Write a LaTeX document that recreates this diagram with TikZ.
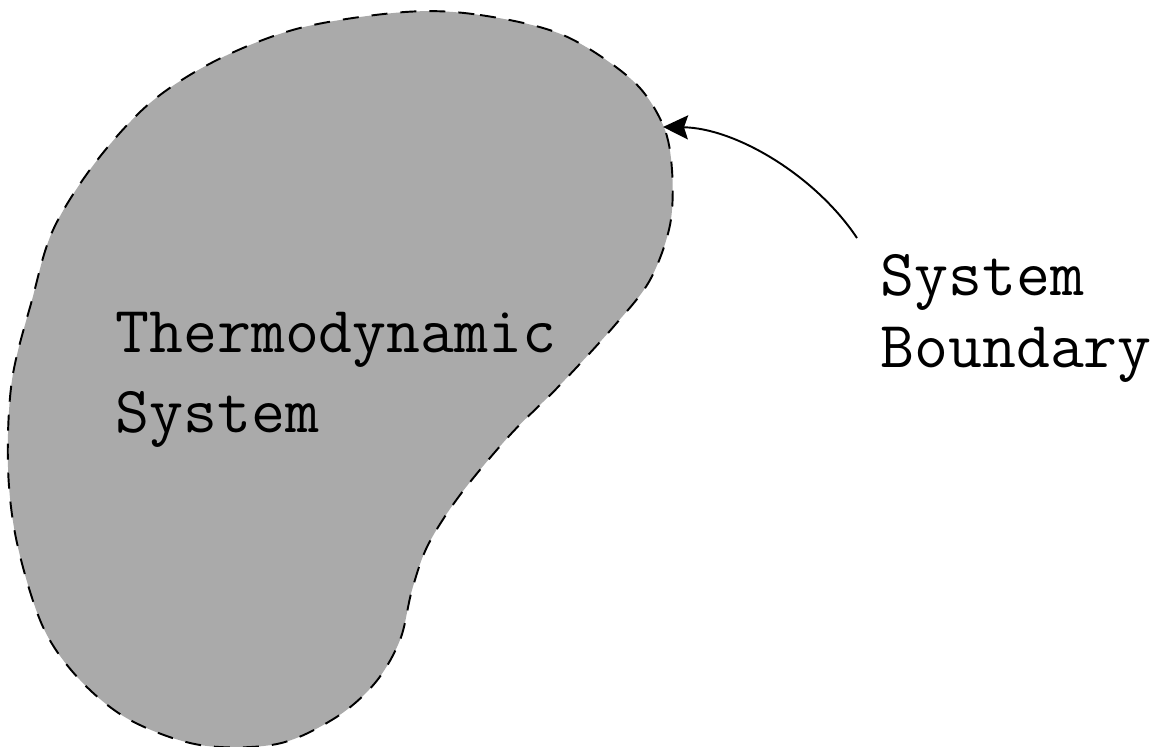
\documentclass[tikz,border=0pt]{standalone}
\usetikzlibrary{arrows.meta}
\definecolor{regiongray}{RGB}{170,170,170}
\tikzset{
  boundary/.style={draw=black, fill=regiongray, line width=1.1pt,
    dash pattern=on 0.32cm off 0.26cm},
  pointer/.style={draw=black, line width=1.1pt,
    -{Stealth[length=0.5cm,width=0.48cm,inset=0.08cm]}},
  caption/.style={font=\ttfamily\fontsize{37.5}{45}\selectfont, inner sep=0pt,
    anchor=base west, text=black}
}
\begin{document}
\begin{tikzpicture}[x=0.02cm, y=-0.02cm]
  \useasboundingbox (0,0) rectangle (1157,747);

  % closed system boundary (bean-shaped region)
  \path[boundary] plot[smooth cycle, tension=0.55] coordinates {
    (405,12) (480,15) (563,35) (632,80) (663,125) (672,170) (670,225)
    (650,280) (615,325) (560,385) (510,435) (460,495) (428,545)
    (412,590) (400,640) (375,683) (335,718) (277,744) (200,745)
    (130,720) (80,680) (43,627) (17,543) (8,467) (12,380) (32,300)
    (53,230) (95,163) (150,103) (217,60) (300,28)};

  % labels
  \node[caption] (thermoA) at (115,352) {Thermodynamic};
  \node[caption] (thermoB) at (115,432) {System};
  \node[caption] (bndA) at (880,295) {System};
  \node[caption] (bndB) at (880,367) {Boundary};

  % pointer from the label to the boundary
  \coordinate (tail) at (857,238);
  \coordinate (tip) at (663,127);
  \draw[pointer] (tail) .. controls (815,175) and (735,128) .. (tip);
\end{tikzpicture}
\end{document}
